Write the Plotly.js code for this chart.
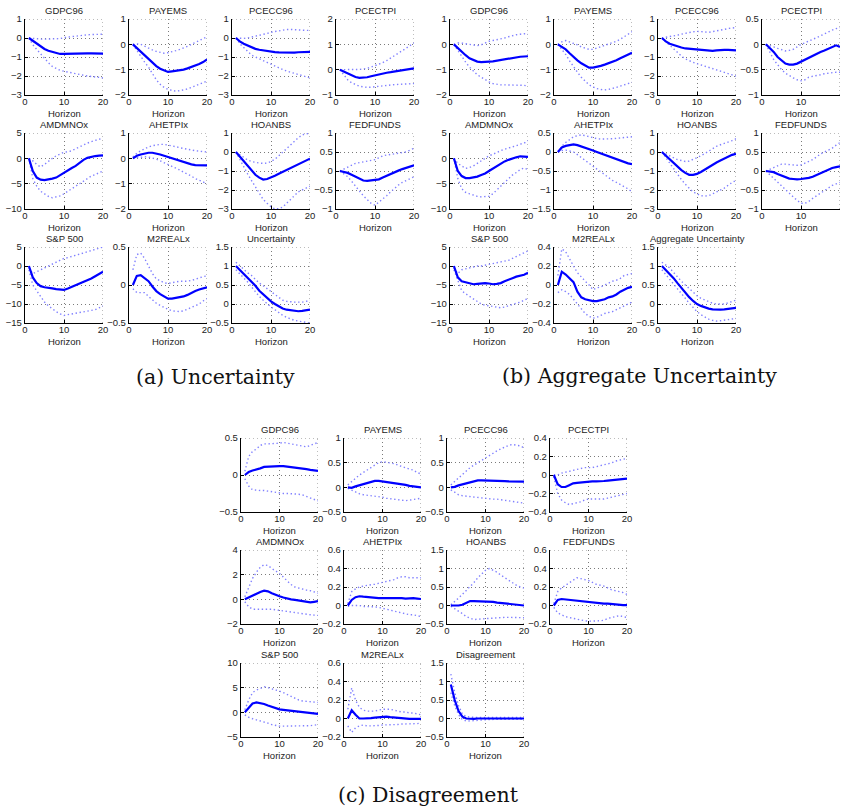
<!DOCTYPE html>
<html><head><meta charset="utf-8">
<script src="https://cdn.plot.ly/plotly-3.0.1.min.js"></script>
<style>html,body{margin:0;padding:0;background:#fff}#chart{width:843px;height:808px}</style>
</head><body><div id="chart"></div>
<script>
const horizon = [1,2,3,4,5,6,7,8,9,10,11,12,13,14,15,16,17,18,19,20];
const panelCaptions = ['(a) Uncertainty', '(b) Aggregate Uncertainty', '(c) Disagreement'];
const variableNames = ['GDPC96','PAYEMS','PCECC96','PCECTPI','AMDMNOx','AHETPIx','HOANBS','FEDFUNDS','S&P 500','M2REALx'];
const shockNames = ['Uncertainty', 'Aggregate Uncertainty', 'Disagreement'];
const xAxisLabel = 'Horizon';

// ---------- (a) Uncertainty ----------
const a_GDPC96_med = [0,-0.15,-0.3,-0.45,-0.58,-0.67,-0.74,-0.8,-0.84,-0.84,-0.83,-0.83,-0.83,-0.83,-0.82,-0.81,-0.81,-0.82,-0.82,-0.82];
const a_GDPC96_up  = [0,-0.03,-0.05,-0.06,-0.06,-0.05,-0.05,-0.05,-0.03,0.02,0.05,0.07,0.1,0.13,0.15,0.17,0.18,0.19,0.2,0.2];
const a_GDPC96_lo  = [0,-0.35,-0.6,-0.85,-1.1,-1.3,-1.5,-1.6,-1.7,-1.75,-1.8,-1.85,-1.88,-1.92,-1.96,-2.0,-2.03,-2.06,-2.08,-2.1];
const a_PAYEMS_med = [0,-0.15,-0.3,-0.45,-0.6,-0.74,-0.86,-0.96,-1.04,-1.09,-1.07,-1.05,-1.03,-1.0,-0.95,-0.9,-0.85,-0.78,-0.7,-0.6];
const a_PAYEMS_up  = [0,0.02,0,-0.08,-0.15,-0.22,-0.28,-0.32,-0.35,-0.33,-0.3,-0.25,-0.2,-0.15,-0.08,0,0.07,0.15,0.22,0.3];
const a_PAYEMS_lo  = [0,-0.25,-0.5,-0.7,-0.9,-1.15,-1.4,-1.58,-1.7,-1.78,-1.83,-1.85,-1.83,-1.8,-1.76,-1.7,-1.63,-1.56,-1.5,-1.45];
const a_PCECC96_med = [0,-0.18,-0.3,-0.4,-0.5,-0.57,-0.62,-0.66,-0.69,-0.72,-0.74,-0.76,-0.77,-0.78,-0.78,-0.77,-0.75,-0.74,-0.74,-0.73];
const a_PCECC96_up  = [0,-0.02,-0.02,0,0.04,0.08,0.12,0.18,0.24,0.3,0.34,0.38,0.42,0.45,0.45,0.43,0.42,0.41,0.4,0.4];
const a_PCECC96_lo  = [0,-0.3,-0.5,-0.7,-0.9,-1.0,-1.1,-1.2,-1.3,-1.4,-1.5,-1.58,-1.66,-1.74,-1.8,-1.86,-1.92,-1.98,-2.04,-2.1];
const a_PCECTPI_med = [0,-0.08,-0.15,-0.23,-0.29,-0.32,-0.32,-0.3,-0.26,-0.22,-0.19,-0.15,-0.12,-0.1,-0.08,-0.05,-0.03,-0.01,0.02,0.05];
const a_PCECTPI_up  = [0,0,0,0,0,0.01,0.03,0.05,0.1,0.15,0.2,0.28,0.36,0.45,0.55,0.65,0.75,0.85,0.95,1.05];
const a_PCECTPI_lo  = [0,-0.2,-0.4,-0.52,-0.6,-0.65,-0.68,-0.7,-0.69,-0.67,-0.65,-0.63,-0.62,-0.6,-0.59,-0.58,-0.57,-0.56,-0.55,-0.55];
const a_AMDMNOx_med = [0,-2.5,-3.8,-4.2,-4.3,-4.2,-4.0,-3.8,-3.3,-2.8,-2.4,-1.9,-1.5,-0.9,-0.3,0.1,0.3,0.45,0.55,0.6];
const a_AMDMNOx_up  = [0,-0.5,-1.2,-1.7,-1.2,-0.5,0,0.5,0.9,1.2,1.3,1.5,1.9,2.3,2.7,3.0,3.3,3.5,3.8,4.0];
const a_AMDMNOx_lo  = [0,-4,-5.5,-6.5,-7,-7.5,-7.8,-7.6,-7.4,-7,-6.5,-6,-5.5,-5,-4.5,-4,-3.5,-3.2,-2.8,-2.5];
const a_AHETPIx_med = [0,0.1,0.15,0.2,0.22,0.22,0.2,0.15,0.1,0.05,0,-0.05,-0.1,-0.15,-0.2,-0.24,-0.27,-0.28,-0.28,-0.28];
const a_AHETPIx_up  = [0.05,0.2,0.3,0.38,0.45,0.5,0.53,0.55,0.55,0.53,0.5,0.46,0.42,0.4,0.36,0.33,0.3,0.28,0.26,0.25];
const a_AHETPIx_lo  = [0,0.03,0.05,0.06,0.05,0.02,-0.03,-0.1,-0.17,-0.23,-0.3,-0.38,-0.46,-0.55,-0.62,-0.7,-0.8,-0.87,-0.94,-1.0];
const a_HOANBS_med = [0,-0.25,-0.5,-0.75,-1.0,-1.2,-1.35,-1.45,-1.42,-1.35,-1.25,-1.15,-1.05,-0.95,-0.85,-0.75,-0.65,-0.55,-0.45,-0.35];
const a_HOANBS_up  = [0,-0.15,-0.3,-0.42,-0.5,-0.55,-0.58,-0.6,-0.58,-0.5,-0.38,-0.2,0,0.2,0.4,0.6,0.75,0.9,0.97,1.0];
const a_HOANBS_lo  = [0,-0.4,-0.8,-1.15,-1.5,-1.85,-2.2,-2.5,-2.7,-2.88,-3.0,-2.98,-2.9,-2.7,-2.5,-2.3,-2.1,-2.0,-1.9,-1.8];
const a_FEDFUNDS_med = [0,-0.02,-0.05,-0.1,-0.15,-0.2,-0.25,-0.26,-0.25,-0.24,-0.22,-0.17,-0.12,-0.08,-0.03,0.01,0.05,0.08,0.11,0.15];
const a_FEDFUNDS_up  = [0,0.05,0.1,0.15,0.2,0.22,0.24,0.25,0.27,0.3,0.35,0.4,0.42,0.44,0.45,0.47,0.48,0.5,0.55,0.6];
const a_FEDFUNDS_lo  = [0,-0.07,-0.15,-0.27,-0.4,-0.52,-0.65,-0.75,-0.85,-0.9,-0.82,-0.75,-0.65,-0.55,-0.45,-0.37,-0.3,-0.25,-0.2,-0.15];
const a_SP500_med = [0,-3,-4.5,-5.3,-5.6,-5.7,-5.9,-6.1,-6.3,-6.3,-5.9,-5.5,-4.9,-4.5,-4.1,-3.8,-3.3,-2.7,-2.1,-1.5];
const a_SP500_up  = [-0.5,-2,-1.5,-1,-0.5,0,0.5,1,1.5,2,2.2,2.5,2.8,3.2,3.5,3.8,4.2,4.5,4.8,5];
const a_SP500_lo  = [-1,-5,-6.5,-8,-9.5,-10.5,-11.3,-12,-12.6,-13,-12.8,-12.6,-12.5,-12.3,-12.2,-12,-11.8,-11.5,-11,-10.5];
const a_M2REALx_med = [0,0.12,0.13,0.09,0.05,-0.02,-0.08,-0.12,-0.15,-0.18,-0.18,-0.17,-0.17,-0.15,-0.13,-0.1,-0.08,-0.06,-0.04,-0.03];
const a_M2REALx_up  = [0.2,0.4,0.42,0.35,0.25,0.15,0.08,0.05,0.03,0.02,0.03,0.05,0.05,0.05,0.05,0.06,0.08,0.1,0.11,0.12];
const a_M2REALx_lo  = [-0.05,-0.1,-0.1,-0.1,-0.15,-0.2,-0.24,-0.27,-0.3,-0.32,-0.34,-0.35,-0.35,-0.34,-0.32,-0.3,-0.27,-0.25,-0.21,-0.18];
const a_Shock_med = [1,0.9,0.8,0.7,0.6,0.48,0.35,0.25,0.15,0.07,0,-0.07,-0.12,-0.15,-0.17,-0.18,-0.19,-0.18,-0.17,-0.15];
const a_Shock_up  = [1.1,1.0,0.9,0.82,0.75,0.65,0.55,0.48,0.4,0.33,0.25,0.17,0.1,0.07,0.05,0.05,0.05,0.05,0.07,0.1];
const a_Shock_lo  = [0.9,0.8,0.7,0.58,0.45,0.32,0.2,0.1,0,-0.08,-0.15,-0.23,-0.3,-0.35,-0.4,-0.43,-0.45,-0.47,-0.48,-0.5];

// ---------- (b) Aggregate Uncertainty ----------
const b_GDPC96_med = [0,-0.15,-0.3,-0.43,-0.55,-0.62,-0.68,-0.7,-0.7,-0.68,-0.67,-0.64,-0.62,-0.6,-0.58,-0.54,-0.5,-0.49,-0.48,-0.47];
const b_GDPC96_up  = [0,0.05,0.05,0.02,0,-0.03,-0.05,-0.02,0.05,0.12,0.15,0.18,0.2,0.25,0.3,0.35,0.38,0.4,0.42,0.4];
const b_GDPC96_lo  = [0,-0.25,-0.5,-0.7,-0.9,-1.05,-1.2,-1.3,-1.4,-1.48,-1.55,-1.58,-1.6,-1.6,-1.6,-1.6,-1.6,-1.6,-1.62,-1.65];
const b_PAYEMS_med = [0,-0.1,-0.2,-0.35,-0.5,-0.63,-0.75,-0.85,-0.92,-0.92,-0.9,-0.85,-0.8,-0.75,-0.7,-0.63,-0.55,-0.48,-0.4,-0.33];
const b_PAYEMS_up  = [0,0.1,0.15,0.1,0.05,-0.02,-0.1,-0.15,-0.2,-0.2,-0.15,-0.1,-0.05,0,0.05,0.12,0.2,0.3,0.4,0.5];
const b_PAYEMS_lo  = [0,-0.2,-0.4,-0.65,-0.9,-1.1,-1.3,-1.45,-1.6,-1.68,-1.75,-1.78,-1.8,-1.78,-1.75,-1.7,-1.65,-1.6,-1.55,-1.5];
const b_PCECC96_med = [0,-0.18,-0.3,-0.38,-0.45,-0.5,-0.55,-0.57,-0.6,-0.61,-0.63,-0.65,-0.66,-0.68,-0.65,-0.63,-0.62,-0.63,-0.64,-0.65];
const b_PCECC96_up  = [0,0.03,0.06,0.1,0.15,0.2,0.25,0.3,0.33,0.35,0.35,0.32,0.3,0.33,0.37,0.4,0.45,0.5,0.52,0.55];
const b_PCECC96_lo  = [0,-0.2,-0.4,-0.6,-0.8,-0.95,-1.1,-1.2,-1.28,-1.35,-1.42,-1.48,-1.55,-1.62,-1.68,-1.75,-1.8,-1.87,-1.94,-2.0];
const b_PCECTPI_med = [0,-0.07,-0.15,-0.25,-0.32,-0.38,-0.4,-0.4,-0.38,-0.34,-0.31,-0.27,-0.22,-0.18,-0.15,-0.12,-0.09,-0.05,-0.02,-0.05];
const b_PCECTPI_up  = [0,-0.02,-0.05,-0.08,-0.11,-0.13,-0.12,-0.1,-0.05,0,0.03,0.07,0.1,0.13,0.17,0.2,0.24,0.28,0.31,0.33];
const b_PCECTPI_lo  = [0,-0.15,-0.3,-0.4,-0.5,-0.57,-0.62,-0.66,-0.7,-0.72,-0.7,-0.65,-0.63,-0.62,-0.6,-0.58,-0.57,-0.55,-0.55,-0.55];
const b_AMDMNOx_med = [0,-2.5,-3.5,-3.9,-3.9,-3.8,-3.6,-3.3,-3.0,-2.5,-2.0,-1.5,-1.0,-0.6,-0.3,0,0.2,0.4,0.4,0.3];
const b_AMDMNOx_up  = [0,-1,-1.5,-2,-1.8,-1.5,-1,-0.5,0,0.5,0.8,1.2,1.5,1.8,2,2.3,2.5,2.8,3,3.5];
const b_AMDMNOx_lo  = [0,-4,-6,-6.7,-7,-7.3,-7.5,-7.6,-7.6,-7.5,-7,-6.3,-5.5,-4.7,-4,-3.3,-2.8,-2.2,-1.9,-2.2];
const b_AHETPIx_med = [0,0.12,0.16,0.18,0.2,0.18,0.15,0.12,0.08,0.04,0,-0.04,-0.08,-0.12,-0.15,-0.19,-0.22,-0.26,-0.3,-0.32];
const b_AHETPIx_up  = [0,0.15,0.25,0.33,0.4,0.43,0.45,0.43,0.4,0.37,0.35,0.34,0.34,0.35,0.35,0.36,0.37,0.38,0.39,0.4];
const b_AHETPIx_lo  = [0,0.04,0.05,0.03,0,-0.07,-0.15,-0.22,-0.3,-0.37,-0.45,-0.52,-0.6,-0.67,-0.75,-0.8,-0.85,-0.9,-0.97,-1.05];
const b_HOANBS_med = [0,-0.2,-0.4,-0.6,-0.8,-0.95,-1.1,-1.2,-1.2,-1.15,-1.05,-0.92,-0.8,-0.68,-0.55,-0.45,-0.35,-0.25,-0.15,-0.1];
const b_HOANBS_up  = [0,-0.1,-0.2,-0.3,-0.4,-0.45,-0.5,-0.48,-0.4,-0.3,-0.2,-0.08,0.05,0.15,0.3,0.38,0.45,0.5,0.6,0.7];
const b_HOANBS_lo  = [0,-0.3,-0.6,-0.9,-1.2,-1.45,-1.7,-1.9,-2.1,-2.2,-2.3,-2.32,-2.3,-2.2,-2.1,-2.0,-1.9,-1.75,-1.6,-1.5];
const b_FEDFUNDS_med = [0,-0.01,-0.03,-0.08,-0.12,-0.17,-0.2,-0.21,-0.22,-0.21,-0.2,-0.18,-0.15,-0.1,-0.05,0,0.05,0.08,0.1,0.12];
const b_FEDFUNDS_up  = [0,0.05,0.1,0.15,0.18,0.18,0.17,0.16,0.15,0.16,0.2,0.25,0.3,0.37,0.45,0.5,0.55,0.6,0.68,0.75];
const b_FEDFUNDS_lo  = [0,-0.1,-0.2,-0.3,-0.4,-0.5,-0.6,-0.68,-0.77,-0.85,-0.85,-0.8,-0.72,-0.65,-0.57,-0.5,-0.45,-0.38,-0.34,-0.3];
const b_SP500_med = [0,-3,-4,-4.3,-4.5,-4.8,-4.7,-4.5,-4.5,-4.6,-4.8,-4.7,-4.5,-4.0,-3.5,-3.2,-2.8,-2.6,-2.3,-1.8];
const b_SP500_up  = [-0.5,-2,-1,-0.7,-0.5,-0.3,0,0,0.2,0.3,0.5,0.8,1,1.3,1.5,2,2.5,3,3.5,4];
const b_SP500_lo  = [-1,-4,-6.5,-7.3,-8,-8.8,-9.5,-10,-10.3,-10.5,-10.8,-11,-11,-10.8,-10.5,-10.2,-9.8,-9.5,-9,-8.5];
const b_M2REALx_med = [0,0.14,0.11,0.07,0.03,-0.07,-0.13,-0.15,-0.16,-0.17,-0.17,-0.16,-0.15,-0.13,-0.12,-0.1,-0.07,-0.05,-0.03,-0.02];
const b_M2REALx_up  = [0.1,0.38,0.35,0.27,0.2,0.13,0.08,0.04,0,-0.05,-0.03,-0.02,0,0.02,0.04,0.05,0.07,0.1,0.11,0.12];
const b_M2REALx_lo  = [-0.08,-0.05,-0.07,-0.1,-0.15,-0.2,-0.25,-0.3,-0.33,-0.35,-0.34,-0.32,-0.3,-0.29,-0.28,-0.26,-0.24,-0.22,-0.2,-0.18];
const b_Shock_med = [1,0.9,0.8,0.68,0.55,0.42,0.3,0.18,0.08,0,-0.05,-0.09,-0.12,-0.14,-0.15,-0.15,-0.14,-0.13,-0.12,-0.1];
const b_Shock_up  = [1.1,1.03,0.95,0.83,0.7,0.6,0.5,0.4,0.3,0.22,0.15,0.1,0.05,0.02,0,0,0,0.03,0.06,0.1];
const b_Shock_lo  = [0.9,0.78,0.65,0.52,0.4,0.28,0.15,0.02,-0.1,-0.2,-0.28,-0.35,-0.4,-0.43,-0.45,-0.44,-0.42,-0.4,-0.39,-0.38];

// ---------- (c) Disagreement ----------
const c_GDPC96_med = [0,0.04,0.06,0.07,0.09,0.11,0.115,0.12,0.12,0.12,0.12,0.115,0.11,0.1,0.09,0.085,0.08,0.07,0.06,0.055];
const c_GDPC96_up  = [0.05,0.25,0.32,0.35,0.4,0.42,0.42,0.42,0.43,0.43,0.44,0.43,0.42,0.41,0.4,0.39,0.38,0.4,0.42,0.44];
const c_GDPC96_lo  = [-0.05,-0.15,-0.2,-0.21,-0.21,-0.21,-0.22,-0.23,-0.24,-0.245,-0.25,-0.25,-0.25,-0.25,-0.26,-0.27,-0.29,-0.3,-0.33,-0.35];
const c_PAYEMS_med = [0,-0.01,0.02,0.04,0.06,0.09,0.1,0.13,0.13,0.12,0.11,0.1,0.09,0.08,0.07,0.05,0.03,0.02,0.01,0];
const c_PAYEMS_up  = [0.05,0.12,0.2,0.25,0.3,0.35,0.4,0.45,0.5,0.52,0.51,0.5,0.48,0.45,0.42,0.4,0.37,0.35,0.3,0.27];
const c_PAYEMS_lo  = [-0.02,-0.06,-0.1,-0.13,-0.15,-0.16,-0.17,-0.18,-0.18,-0.2,-0.22,-0.23,-0.25,-0.26,-0.27,-0.27,-0.26,-0.25,-0.24,-0.22];
const c_PCECC96_med = [0,0.01,0.04,0.06,0.08,0.1,0.12,0.14,0.14,0.14,0.135,0.13,0.13,0.13,0.125,0.12,0.12,0.12,0.12,0.115];
const c_PCECC96_up  = [0.05,0.12,0.2,0.28,0.35,0.4,0.45,0.5,0.55,0.6,0.65,0.7,0.74,0.78,0.82,0.85,0.87,0.86,0.84,0.8];
const c_PCECC96_lo  = [-0.05,-0.1,-0.15,-0.17,-0.18,-0.19,-0.2,-0.2,-0.21,-0.22,-0.23,-0.24,-0.24,-0.25,-0.26,-0.27,-0.28,-0.29,-0.3,-0.32];
const c_PCECTPI_med = [0,-0.1,-0.13,-0.13,-0.11,-0.09,-0.085,-0.08,-0.075,-0.07,-0.07,-0.07,-0.07,-0.065,-0.06,-0.055,-0.05,-0.05,-0.045,-0.04];
const c_PCECTPI_up  = [0,0,0.02,0.03,0.04,0.05,0.06,0.07,0.08,0.08,0.08,0.09,0.1,0.11,0.12,0.13,0.15,0.16,0.17,0.18];
const c_PCECTPI_lo  = [-0.02,-0.2,-0.27,-0.3,-0.32,-0.31,-0.3,-0.29,-0.27,-0.26,-0.26,-0.26,-0.26,-0.26,-0.25,-0.24,-0.23,-0.22,-0.21,-0.2];
const c_AMDMNOx_med = [0,0.15,0.35,0.5,0.6,0.7,0.65,0.5,0.35,0.25,0.15,0.05,0,-0.05,-0.1,-0.15,-0.2,-0.25,-0.2,-0.15];
const c_AMDMNOx_up  = [0.2,1.0,1.7,2.2,2.6,2.8,2.75,2.5,2.3,2.1,1.8,1.5,1.2,1.0,0.9,0.8,0.75,0.7,0.6,0.5];
const c_AMDMNOx_lo  = [-0.2,-0.6,-0.8,-0.8,-0.8,-0.75,-0.78,-0.8,-0.85,-0.9,-0.95,-1.0,-1.05,-1.1,-1.15,-1.2,-1.22,-1.25,-1.28,-1.3];
const c_AHETPIx_med = [0,0.06,0.09,0.1,0.095,0.09,0.085,0.08,0.08,0.08,0.08,0.085,0.085,0.085,0.08,0.075,0.08,0.08,0.075,0.07];
const c_AHETPIx_up  = [0.02,0.15,0.18,0.2,0.21,0.22,0.225,0.23,0.24,0.25,0.26,0.27,0.28,0.3,0.31,0.31,0.3,0.3,0.3,0.3];
const c_AHETPIx_lo  = [-0.01,0,0,0,-0.01,-0.01,-0.01,-0.015,-0.02,-0.03,-0.04,-0.05,-0.06,-0.07,-0.08,-0.09,-0.1,-0.1,-0.11,-0.12];
const c_HOANBS_med = [0,-0.01,0,0.02,0.08,0.12,0.12,0.12,0.12,0.12,0.11,0.1,0.08,0.07,0.06,0.04,0.03,0.02,0.01,0];
const c_HOANBS_up  = [0.02,0.1,0.2,0.3,0.4,0.5,0.62,0.75,0.85,0.95,1.0,0.95,0.9,0.82,0.75,0.68,0.6,0.55,0.5,0.47];
const c_HOANBS_lo  = [-0.02,-0.08,-0.15,-0.22,-0.3,-0.35,-0.38,-0.37,-0.36,-0.35,-0.34,-0.33,-0.32,-0.32,-0.32,-0.32,-0.32,-0.32,-0.33,-0.33];
const c_FEDFUNDS_med = [0,0.06,0.07,0.065,0.06,0.055,0.05,0.045,0.04,0.035,0.03,0.025,0.025,0.02,0.02,0.015,0.01,0.01,0.005,0.005];
const c_FEDFUNDS_up  = [0.02,0.15,0.19,0.22,0.25,0.27,0.3,0.29,0.28,0.27,0.25,0.23,0.22,0.21,0.19,0.17,0.16,0.15,0.14,0.12];
const c_FEDFUNDS_lo  = [-0.02,-0.08,-0.1,-0.12,-0.13,-0.14,-0.15,-0.16,-0.165,-0.17,-0.17,-0.17,-0.165,-0.16,-0.14,-0.13,-0.12,-0.11,-0.12,-0.13];
const c_SP500_med = [0,1,1.8,2,1.9,1.7,1.4,1.1,0.8,0.6,0.5,0.4,0.3,0.2,0.1,0,-0.1,-0.2,-0.25,-0.3];
const c_SP500_up  = [0.5,2.5,4,4.5,4.8,5.2,5,4.8,4.6,4.3,4,3.6,3.2,2.9,2.5,2.3,2.2,2.1,2,2];
const c_SP500_lo  = [-0.5,-1,-1.3,-1.5,-1.8,-2,-2.2,-2.5,-2.7,-2.8,-2.8,-2.8,-2.8,-2.8,-2.8,-2.8,-2.7,-2.7,-2.6,-2.5];
const c_M2REALx_med = [0,0.09,0.04,0,0,0,0.005,0.01,0.015,0.02,0.02,0.015,0.01,0.01,0.005,0,-0.005,-0.005,-0.005,-0.005];
const c_M2REALx_up  = [0.1,0.33,0.2,0.12,0.09,0.08,0.08,0.08,0.09,0.1,0.1,0.1,0.09,0.08,0.07,0.07,0.06,0.06,0.05,0.04];
const c_M2REALx_lo  = [-0.08,-0.15,-0.1,-0.08,-0.07,-0.08,-0.08,-0.08,-0.075,-0.07,-0.07,-0.07,-0.07,-0.065,-0.06,-0.06,-0.06,-0.06,-0.055,-0.05];
const c_Shock_med = [0.92,0.5,0.2,0.05,0,-0.01,-0.01,0,0,0,0,0,0,0,0,0,0,0,0,0];
const c_Shock_up  = [1.2,0.7,0.35,0.12,0.05,0.03,0.03,0.03,0.03,0.03,0.03,0.03,0.03,0.03,0.03,0.03,0.03,0.03,0.03,0.03];
const c_Shock_lo  = [0.7,0.35,0.1,-0.03,-0.07,-0.07,-0.06,-0.05,-0.04,-0.03,-0.03,-0.02,-0.02,-0.02,-0.02,-0.02,-0.02,-0.02,-0.02,-0.02];

// ---------- assembly ----------
const series = {
  a: [[a_GDPC96_med,a_GDPC96_up,a_GDPC96_lo],[a_PAYEMS_med,a_PAYEMS_up,a_PAYEMS_lo],[a_PCECC96_med,a_PCECC96_up,a_PCECC96_lo],[a_PCECTPI_med,a_PCECTPI_up,a_PCECTPI_lo],
      [a_AMDMNOx_med,a_AMDMNOx_up,a_AMDMNOx_lo],[a_AHETPIx_med,a_AHETPIx_up,a_AHETPIx_lo],[a_HOANBS_med,a_HOANBS_up,a_HOANBS_lo],[a_FEDFUNDS_med,a_FEDFUNDS_up,a_FEDFUNDS_lo],
      [a_SP500_med,a_SP500_up,a_SP500_lo],[a_M2REALx_med,a_M2REALx_up,a_M2REALx_lo],[a_Shock_med,a_Shock_up,a_Shock_lo]],
  b: [[b_GDPC96_med,b_GDPC96_up,b_GDPC96_lo],[b_PAYEMS_med,b_PAYEMS_up,b_PAYEMS_lo],[b_PCECC96_med,b_PCECC96_up,b_PCECC96_lo],[b_PCECTPI_med,b_PCECTPI_up,b_PCECTPI_lo],
      [b_AMDMNOx_med,b_AMDMNOx_up,b_AMDMNOx_lo],[b_AHETPIx_med,b_AHETPIx_up,b_AHETPIx_lo],[b_HOANBS_med,b_HOANBS_up,b_HOANBS_lo],[b_FEDFUNDS_med,b_FEDFUNDS_up,b_FEDFUNDS_lo],
      [b_SP500_med,b_SP500_up,b_SP500_lo],[b_M2REALx_med,b_M2REALx_up,b_M2REALx_lo],[b_Shock_med,b_Shock_up,b_Shock_lo]],
  c: [[c_GDPC96_med,c_GDPC96_up,c_GDPC96_lo],[c_PAYEMS_med,c_PAYEMS_up,c_PAYEMS_lo],[c_PCECC96_med,c_PCECC96_up,c_PCECC96_lo],[c_PCECTPI_med,c_PCECTPI_up,c_PCECTPI_lo],
      [c_AMDMNOx_med,c_AMDMNOx_up,c_AMDMNOx_lo],[c_AHETPIx_med,c_AHETPIx_up,c_AHETPIx_lo],[c_HOANBS_med,c_HOANBS_up,c_HOANBS_lo],[c_FEDFUNDS_med,c_FEDFUNDS_up,c_FEDFUNDS_lo],
      [c_SP500_med,c_SP500_up,c_SP500_lo],[c_M2REALx_med,c_M2REALx_up,c_M2REALx_lo],[c_Shock_med,c_Shock_up,c_Shock_lo]]
};

// y-axis [min, max, step] per subplot (styling of axes)
const yScales = {
  a: [[-3,1,1],[-2,1,1],[-3,1,1],[-1,2,1],[-10,5,5],[-2,1,1],[-3,1,1],[-1,1,0.5],[-15,5,5],[-0.5,0.5,0.5],[-0.5,1.5,0.5]],
  b: [[-2,1,1],[-2,1,1],[-3,1,1],[-1,0.5,0.5],[-10,5,5],[-1.5,0.5,0.5],[-3,1,1],[-1,1,0.5],[-15,5,5],[-0.4,0.4,0.2],[-0.5,1.5,0.5]],
  c: [[-0.5,0.5,0.5],[-0.5,1,0.5],[-0.5,1,0.5],[-0.4,0.4,0.2],[-2,4,2],[-0.2,0.6,0.2],[-0.5,1.5,0.5],[-0.2,0.6,0.2],[-5,10,5],[-0.2,0.6,0.2],[-0.5,1.5,0.5]]
};

// pixel layout of panels
const W = 843, H = 808;
const panelGeom = {
  a: {lefts:[25,129,232,336], tops:[19,133,247], w:78, h:76},
  b: {lefts:[450,554,658,762], tops:[19,133,247], w:78, h:76},
  c: {lefts:[241,344,447,550], tops:[438,550,663], w:77, h:74}
};
const captionPos = {a:[215,377], b:[639,376], c:[428,795]};

const GRID = '#7a7a7a';
const traces = [];
const layout = {
  width: W, height: H, margin:{l:0,r:0,t:0,b:0},
  paper_bgcolor:'#fff', plot_bgcolor:'#fff', showlegend:false,
  font:{family:'Liberation Sans, Arial, sans-serif', size:9, color:'#222'},
  annotations:[], shapes:[]
};
const esc = s => s.replace(/&/g,'&amp;');
let k = 0;
['a','b','c'].forEach((p, pi) => {
  const g = panelGeom[p];
  const titles = variableNames.concat([shockNames[pi]]);
  series[p].forEach((ser, i) => {
    k++;
    const row = Math.floor(i/4), col = i%4;
    const L = g.lefts[col], T = g.tops[row];
    const xa = 'xaxis'+k, ya = 'yaxis'+k;
    const xr = 'x'+k, yr = 'y'+k;
    const [ymin, ymax, dy] = yScales[p][i];
    layout[xa] = {domain:[L/W,(L+g.w)/W], anchor:yr, range:[0,20], tickvals:[0,10,20], ticktext:['0','10','20'],
      showline:true, linecolor:'#000', linewidth:1.2, ticks:'inside', ticklen:3, tickcolor:'#000',
      ticklabelstandoff:-3,
      showgrid:true, gridcolor:GRID, griddash:'1px,3px', gridwidth:1, zeroline:false, fixedrange:true,
      tickfont:{size:9.5, color:'#222'}};
    layout[ya] = {domain:[1-(T+g.h)/H, 1-T/H], anchor:xr, range:[ymin,ymax], dtick:dy, tick0:ymin,
      showline:true, linecolor:'#000', linewidth:1.2, ticks:'inside', ticklen:3, tickcolor:'#000',
      showgrid:true, gridcolor:GRID, griddash:'1px,3px', gridwidth:1, zeroline:false, fixedrange:true,
      tickfont:{size:9.5, color:'#222'}};
    // dotted frame top/right (MATLAB grid at limits)
    layout.shapes.push({type:'line', xref:xr, yref:yr, x0:0, x1:20, y0:ymax, y1:ymax, line:{color:GRID, width:1, dash:'1px,3px'}, layer:'below'});
    layout.shapes.push({type:'line', xref:xr, yref:yr, x0:20, x1:20, y0:ymin, y1:ymax, line:{color:GRID, width:1, dash:'1px,3px'}, layer:'below'});
    const [med, up, lo] = ser;
    traces.push({x:horizon, y:up, xaxis:xr, yaxis:yr, mode:'lines', hoverinfo:'skip', line:{color:'#8080ff', width:1.4, dash:'1.4px,2.6px'}});
    traces.push({x:horizon, y:lo, xaxis:xr, yaxis:yr, mode:'lines', hoverinfo:'skip', line:{color:'#8080ff', width:1.4, dash:'1.4px,2.6px'}});
    traces.push({x:horizon, y:med, xaxis:xr, yaxis:yr, mode:'lines', hoverinfo:'skip', line:{color:'#0000ff', width:2.2}});
    layout.annotations.push({xref:'paper', yref:'paper', x:(L+g.w/2)/W, y:1-(T-9)/H, text:esc(titles[i]), showarrow:false,
      xanchor:'center', yanchor:'middle', font:{size:9.5, color:'#222'}});
    layout.annotations.push({xref:'paper', yref:'paper', x:(L+g.w/2)/W, y:1-(T+g.h+18)/H, text:xAxisLabel, showarrow:false,
      xanchor:'center', yanchor:'middle', font:{size:9.5, color:'#222'}});
  });
  layout.annotations.push({xref:'paper', yref:'paper', x:captionPos[p][0]/W, y:1-captionPos[p][1]/H, text:panelCaptions[pi], showarrow:false,
    xanchor:'center', yanchor:'middle', font:{family:'DejaVu Serif, Liberation Serif, serif', size:20.5, color:'#111'}});
});

Plotly.newPlot('chart', traces, layout, {staticPlot:true, displayModeBar:false});
</script></body></html>
